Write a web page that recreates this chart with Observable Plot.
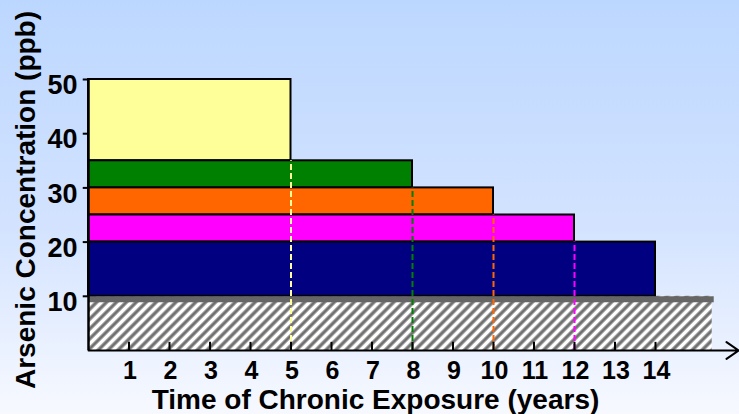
<!DOCTYPE html>
<html>
<head>
<meta charset="utf-8">
<script src="https://cdn.jsdelivr.net/npm/d3@7"></script>
<script src="https://cdn.jsdelivr.net/npm/@observablehq/plot@0.6"></script>
<style>
  html, body { margin: 0; padding: 0; }
  body { width: 739px; height: 414px; overflow: hidden;
         background: linear-gradient(to bottom, #BCD7FF 0%, #D3E3FF 55%, #F7F9FF 100%); }
  #chart svg { display: block; }
</style>
</head>
<body>
<div id="chart"></div>
<script>
// ---- data ----
const exposureYears = [5, 8, 10, 12, 14];
const concLow  = [35, 30, 25, 20, 10];
const concHigh = [50, 35, 30, 25, 20];
const barColors = ["#FFFF99", "#008000", "#FF6600", "#FF00FF", "#000080"];
const safeLevel = 10;
const safeZoneEnd = 15.4;
const axisEnd = 16.05;
const xTicks = [1, 2, 3, 4, 5, 6, 7, 8, 9, 10, 11, 12, 13, 14];
const yTicks = [10, 20, 30, 40, 50];
const xTitle = "Time of Chronic Exposure (years)";
const yTitle = "Arsenic Concentration (ppb)";

const bars = exposureYears.map((t, i) => ({t, lo: concLow[i], hi: concHigh[i], c: barColors[i]}));
const dashes = bars.slice(0, 4);

const font = "'Liberation Sans', Arial, Helvetica, sans-serif";

const plot = Plot.plot({
  width: 739,
  height: 414,
  marginLeft: 88,
  marginRight: 3,
  marginTop: 79,
  marginBottom: 64,
  style: {background: "transparent", fontFamily: font, overflow: "visible"},
  x: {domain: [0, 16], axis: null},
  y: {domain: [0, 50], axis: null},
  marks: [
    // hatched safe zone
    Plot.rect([{x1: 0, x2: safeZoneEnd, y1: 0, y2: safeLevel}], {x1: "x1", x2: "x2", y1: "y1", y2: "y2", fill: "url(#hatch)"}),
    // y ticks (behind bars)
    Plot.ruleY(yTicks, {y: d => d, x1: -0.13, x2: 0.2, stroke: "black", strokeWidth: 2}),
    // exposure bars
    Plot.rect(bars, {x1: 0, x2: "t", y1: "lo", y2: "hi", fill: "c", stroke: "black", strokeWidth: 2}),
    // limit line at 10 ppb
    Plot.ruleY([safeLevel], {x1: 0, x2: safeZoneEnd + 0.05, stroke: "#666666", strokeWidth: 6, dy: 3}),
    // dashed drop lines
    Plot.ruleX(dashes, {x: "t", y1: 0, y2: "lo", stroke: "c", strokeWidth: 2, strokeDasharray: "6,3"}),
    // x ticks
    Plot.ruleX(xTicks, {x: d => d, y1: 0, y2: 1.5, stroke: "black", strokeWidth: 2}),
    // axes lines
    Plot.ruleX([0], {y1: 0, y2: 50, stroke: "black", strokeWidth: 2.5}),
    Plot.arrow([{x1: 0, x2: axisEnd, y: 0}], {x1: "x1", x2: "x2", y1: "y", y2: "y", stroke: "black", strokeWidth: 2, headLength: 11, headAngle: 70, bend: 0}),
    // tick labels
    Plot.text(yTicks, {x: 0, y: d => d, text: d => String(d), textAnchor: "end", dx: -11, dy: 6, fontSize: 27, fontWeight: "bold", fill: "black"}),
    Plot.text(xTicks, {x: d => d, y: 0, text: d => String(d), dx: 1, dy: 20, fontSize: 25, fontWeight: "bold", fill: "black"}),
    // titles
    Plot.text([xTitle], {frameAnchor: "bottom", textAnchor: "middle", text: d => d, dx: -37, dy: 58, fontSize: 28, fontWeight: "bold", fill: "black"}),
    Plot.text([yTitle], {frameAnchor: "left", textAnchor: "middle", text: d => d, rotate: -90, dx: -62, dy: -15, fontSize: 28, fontWeight: "bold", fill: "black"})
  ]
});

// hatch pattern definition
const svg = d3.select(plot);
const defs = svg.insert("defs", ":first-child");
const pat = defs.append("pattern")
  .attr("id", "hatch")
  .attr("patternUnits", "userSpaceOnUse")
  .attr("width", 7)
  .attr("height", 7)
  .attr("patternTransform", "rotate(45)");
pat.append("rect").attr("width", 7).attr("height", 7).attr("fill", "white");
pat.append("rect").attr("x", 0).attr("width", 4).attr("height", 7).attr("fill", "#a8a8a8");
pat.append("rect").attr("x", 0.9).attr("width", 2.2).attr("height", 7).attr("fill", "#707070");

document.getElementById("chart").appendChild(plot);
</script>
</body>
</html>
